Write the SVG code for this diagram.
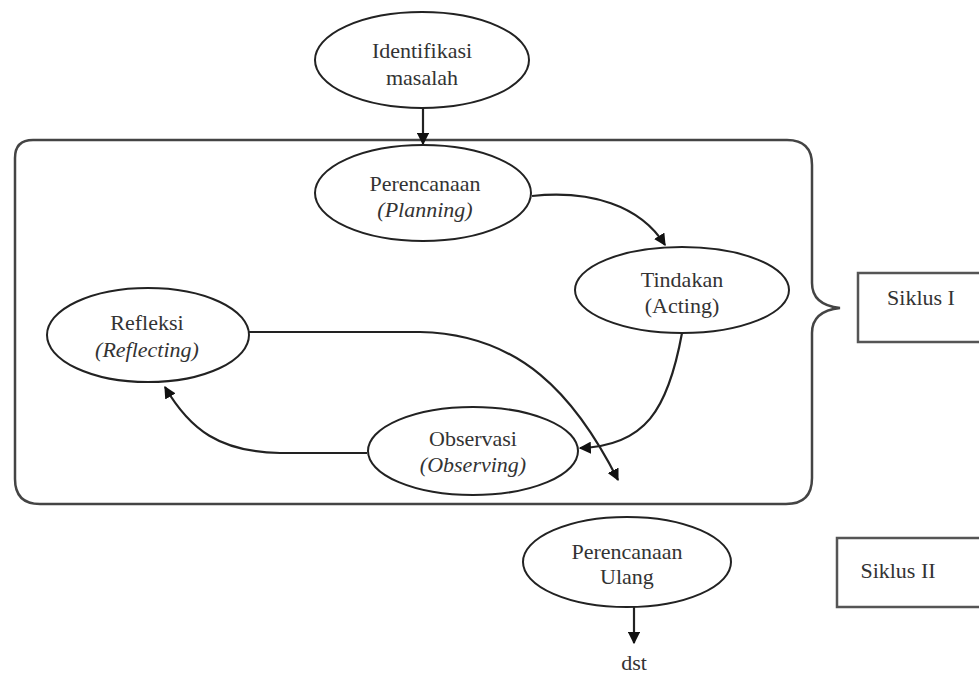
<svg xmlns="http://www.w3.org/2000/svg" width="979" height="684" viewBox="0 0 979 684">
<style>
.node{fill:#fff;stroke:#222;stroke-width:2}
.t{font-family:"Liberation Serif","Times New Roman",serif;font-size:22px;fill:#333;text-anchor:middle}
.i{font-style:italic}
.edge{fill:none;stroke:#222;stroke-width:2.2}
.frame{fill:none;stroke:#444;stroke-width:2.5}
.lab{fill:#fff;stroke:#555;stroke-width:2.5}
</style>
<defs>
<marker id="ah" viewBox="0 0 10 10" refX="9" refY="5" markerWidth="5.5" markerHeight="5.5" orient="auto" markerUnits="strokeWidth">
<path d="M0,0 L10,5 L0,10 z" fill="#111"/>
</marker>
</defs>
<rect width="979" height="684" fill="#fff"/>

<g id="siklus1-frame">
<path class="frame" d="M33,140 L787,140 Q812,140 812,165 L812,283 Q812,305 840,308 Q812,311 812,333 L812,478 Q812,504 786,504 L40,504 Q15,504 15,479 L15,158 Q15,140 33,140 Z"/>
</g>

<g id="siklus1-label">
<rect class="lab" x="858" y="273" width="140" height="69"/>
<text class="t" x="921" y="305">Siklus I</text>
</g>
<g id="siklus2-label">
<rect class="lab" x="837" y="538" width="160" height="69"/>
<text class="t" x="898" y="578">Siklus II</text>
</g>

<g id="connectors">
<path class="edge" d="M423,108 L423,144" marker-end="url(#ah)"/>
<path class="edge" d="M532,196 C590,190 640,205 665,245" marker-end="url(#ah)"/>
<path class="edge" d="M682,333 C668,410 645,446 580,448" marker-end="url(#ah)"/>
<path class="edge" d="M248,332 L420,332 C520,334 575,395 618,480" marker-end="url(#ah)"/>
<path class="edge" d="M367,453 L280,453 C220,452 190,430 165,387" marker-end="url(#ah)"/>
<path class="edge" d="M634,607 L634,643" marker-end="url(#ah)"/>
</g>

<g id="identifikasi">
<ellipse class="node" cx="422" cy="60" rx="107" ry="48"/>
<text class="t" x="422" y="58">Identifikasi</text>
<text class="t" x="422" y="85">masalah</text>
</g>
<g id="perencanaan">
<ellipse class="node" cx="423" cy="193" rx="108" ry="48"/>
<text class="t" x="425" y="191">Perencanaan</text>
<text class="t i" x="425" y="217">(Planning)</text>
</g>
<g id="tindakan">
<ellipse class="node" cx="682" cy="290" rx="107" ry="43"/>
<text class="t" x="682" y="287">Tindakan</text>
<text class="t" x="682" y="313">(Acting)</text>
</g>
<g id="refleksi">
<ellipse class="node" cx="148" cy="335" rx="101" ry="47"/>
<text class="t" x="147" y="330">Refleksi</text>
<text class="t i" x="147" y="357">(Reflecting)</text>
</g>
<g id="observasi">
<ellipse class="node" cx="473" cy="451" rx="105" ry="44"/>
<text class="t" x="473" y="446">Observasi</text>
<text class="t i" x="473" y="472">(Observing)</text>
</g>
<g id="perencanaan-ulang">
<ellipse class="node" cx="627" cy="562" rx="104" ry="45"/>
<text class="t" x="627" y="559">Perencanaan</text>
<text class="t" x="627" y="584">Ulang</text>
</g>
<g id="dst">
<text class="t" x="634" y="670">dst</text>
</g>
</svg>
